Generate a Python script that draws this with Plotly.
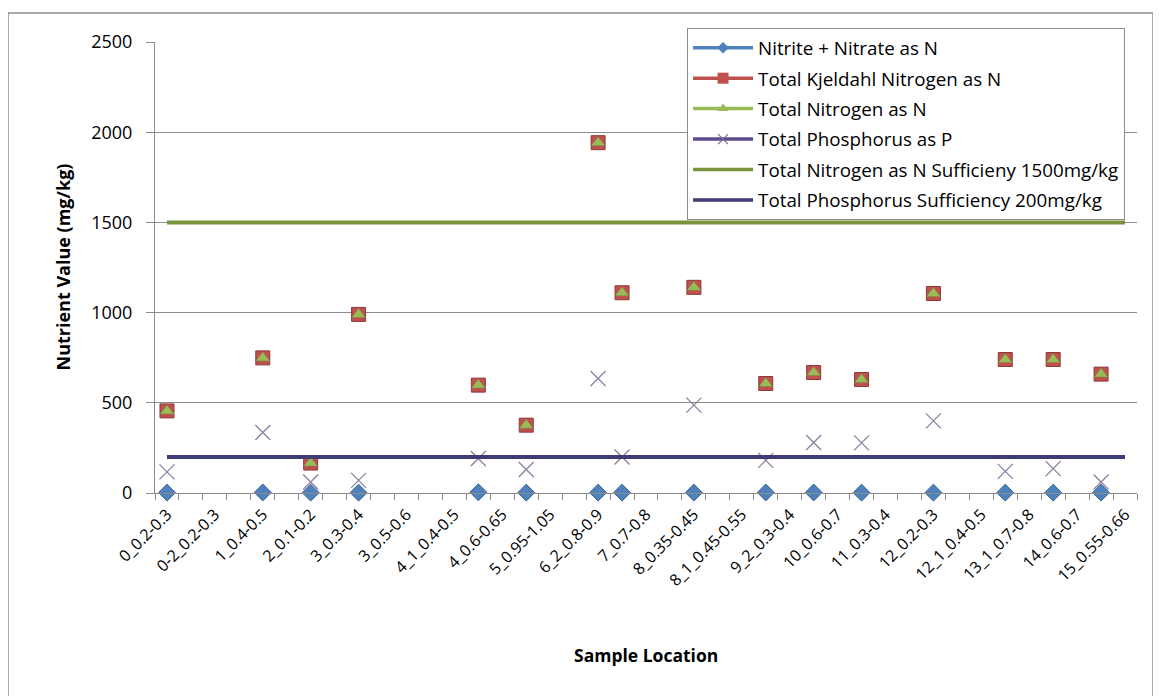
import plotly.graph_objects as go

# ---- data ----
tick_labels = ["0_0.2-0.3", "0-2_0.2-0.3", "1_0.4-0.5", "2_0.1-0.2", "3_0.3-0.4",
               "3_0.5-0.6", "4_1_0.4-0.5", "4_0.6-0.65", "5_0.95-1.05", "6_2_0.8-0.9",
               "7_0.7-0.8", "8_0.35-0.45", "8_1_0.45-0.55", "9_2_0.3-0.4", "10_0.6-0.7",
               "11_0.3-0.4", "12_0.2-0.3", "12_1_0.4-0.5", "13_1_0.7-0.8", "14_0.6-0.7",
               "15_0.55-0.66"]
tick_index = [0, 2, 4, 6, 8, 10, 12, 14, 16, 18, 20, 22, 24, 26, 28, 30, 32, 34, 36, 38, 40]
category_index = list(range(41))

sample_index = [0, 4, 6, 8, 13, 15, 18, 19, 22, 25, 27, 29, 32, 35, 37, 39]
nitrite_nitrate = [2, 3, 2, 2, 4, 2, 2, 2, 2, 3, 3, 2, 2, 2, 2, 2]
tkn = [455, 749, 166, 990, 598, 376, 1942, 1110, 1140, 607, 668, 629, 1106, 740, 740, 659]
total_n = [455, 749, 166, 990, 598, 376, 1942, 1110, 1140, 607, 668, 629, 1106, 740, 740, 659]
total_p = [117, 335, 61, 70, 191, 130, 635, 200, 487, 181, 280, 278, 400, 120, 135, 61]
n_sufficiency = [1500, 1500, 1500, 1500, 1500, 1500, 1500, 1500, 1500, 1500, 1500,
                 1500, 1500, 1500, 1500, 1500, 1500, 1500, 1500, 1500, 1500,
                 1500, 1500, 1500, 1500, 1500, 1500, 1500, 1500, 1500, 1500,
                 1500, 1500, 1500, 1500, 1500, 1500, 1500, 1500, 1500, 1500]
p_sufficiency = [200, 200, 200, 200, 200, 200, 200, 200, 200, 200, 200,
                 200, 200, 200, 200, 200, 200, 200, 200, 200, 200,
                 200, 200, 200, 200, 200, 200, 200, 200, 200, 200,
                 200, 200, 200, 200, 200, 200, 200, 200, 200, 200]

names = ["Nitrite + Nitrate as N", "Total Kjeldahl Nitrogen as N", "Total Nitrogen as N",
         "Total Phosphorus as P", "Total Nitrogen as N Sufficieny 1500mg/kg",
         "Total Phosphorus Sufficiency 200mg/kg"]

BLUE = "#4F81BD"
RED = "#C0504D"
GREEN = "#9BBB59"
PURPLE = "#8064A2"
OLIVE = "#77933C"
NAVY = "#3F3C75"
FONT = "Open Sans"

fig = go.Figure()

# plotted marks (no legend)
fig.add_trace(go.Scatter(x=sample_index, y=nitrite_nitrate, mode="markers", showlegend=False,
                         cliponaxis=False,
                         marker=dict(symbol="diamond", size=13, color=BLUE,
                                     line=dict(color="#3A5F8C", width=1))))
fig.add_trace(go.Scatter(x=sample_index, y=tkn, mode="markers", showlegend=False,
                         marker=dict(symbol="square", size=14, color=RED,
                                     line=dict(color="#8C3A38", width=1))))
fig.add_trace(go.Scatter(x=sample_index, y=total_n, mode="markers", showlegend=False,
                         marker=dict(symbol="triangle-up", size=12, color=GREEN,
                                     line=dict(color="#71893F", width=0.5))))
fig.add_trace(go.Scatter(x=sample_index, y=total_p, mode="markers", showlegend=False,
                         marker=dict(symbol="x-thin-open", size=15, color="#8A7FA3",
                                     line=dict(color="#8A7FA3", width=1.3))))
fig.add_trace(go.Scatter(x=category_index, y=n_sufficiency, mode="lines", showlegend=False,
                         line=dict(color=OLIVE, width=4)))
fig.add_trace(go.Scatter(x=category_index, y=p_sufficiency, mode="lines", showlegend=False,
                         line=dict(color=NAVY, width=4)))

# legend entries
legend_specs = [
    (names[0], BLUE, dict(symbol="diamond", size=9, color=BLUE), "lines+markers"),
    (names[1], RED, dict(symbol="square", size=11, color=RED), "lines+markers"),
    (names[2], GREEN, dict(symbol="triangle-up", size=10, color=GREEN), "lines+markers"),
    (names[3], "#5F4B8B", dict(symbol="x-thin-open", size=10, color=PURPLE,
                               line=dict(color=PURPLE, width=1.2)), "lines+markers"),
    (names[4], OLIVE, None, "lines"),
    (names[5], NAVY, None, "lines"),
]
for i, (nm, col, mk, mode) in enumerate(legend_specs):
    kw = dict(x=[None], y=[None], mode=mode, name=nm, legendgroup="g%d" % i,
              line=dict(color=col, width=3.5))
    if mk is not None:
        kw["marker"] = mk
    fig.add_trace(go.Scatter(**kw))

# page body adds an 8px offset; figure sized to fit the window
fig.update_layout(
    width=1153, height=688,
    margin=dict(l=147, r=24, t=34, b=203),
    paper_bgcolor="white", plot_bgcolor="white",
    font=dict(family=FONT, size=15, color="#000000"),
    showlegend=True,
    legend=dict(x=0.5418, y=1.031, xanchor="left", yanchor="top",
                bgcolor="white", bordercolor="#8C8C8C", borderwidth=1,
                font=dict(family=FONT, size=18.8, color="#000000"),
                tracegroupgap=3, itemwidth=60),
    xaxis=dict(range=[-0.5, 40.5], tickmode="array", tickvals=tick_index,
               ticktext=tick_labels, tickangle=-45, showgrid=False, zeroline=False,
               showline=True, linecolor="#8C8C8C", linewidth=1,
               ticks="outside", ticklen=5, tickcolor="rgba(0,0,0,0)",
               tickfont=dict(family=FONT, size=16),
               minor=dict(tick0=-0.5, dtick=1, ticks="outside", ticklen=6,
                          tickcolor="#8C8C8C", showgrid=False)),
    yaxis=dict(range=[0, 2500], dtick=500, showgrid=True, gridcolor="#8C8C8C", gridwidth=1,
               zeroline=False, showline=True, linecolor="#8C8C8C", linewidth=1,
               ticks="outside", ticklen=8, tickcolor="#8C8C8C",
               tickfont=dict(family=FONT, size=18), ticklabelstandoff=10),
    annotations=[
        dict(text="<b>Sample Location</b>", xref="paper", yref="paper", x=0.5, y=-0.359,
             xanchor="center", yanchor="middle",
             showarrow=False, font=dict(family=FONT, size=17.5)),
        dict(text="<b>Nutrient Value (mg/kg)</b>", xref="paper", yref="paper", x=-0.0947, y=0.5,
             xanchor="center", yanchor="middle",
             textangle=-90, showarrow=False, font=dict(family=FONT, size=18)),
    ],
    shapes=[dict(type="rect", xref="paper", yref="paper", x0=-0.1497, x1=1.0163,
                 y0=-0.47, y1=1.0643, line=dict(color="#8C8C8C", width=1.5), layer="below")],
)

fig.write_html("out.html")
